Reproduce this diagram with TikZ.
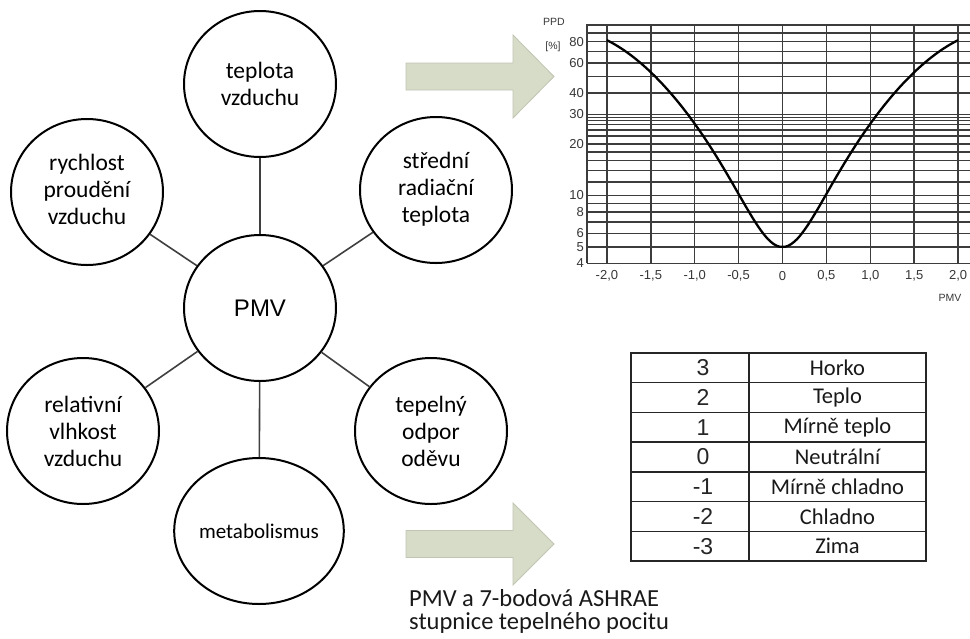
\documentclass[tikz,border=0pt]{standalone}
\usepackage{fontspec}
\setmainfont{Carlito}
\newfontfamily\arialf{Liberation Sans}
\usetikzlibrary{shapes.geometric}
\definecolor{arrowfill}{RGB}{214,220,200}
\definecolor{arrowline}{RGB}{192,198,178}
\definecolor{spoke}{RGB}{64,64,64}
\definecolor{gridc}{RGB}{60,60,60}
\definecolor{tickc}{RGB}{55,55,55}
\tikzset{
  bubble/.style={ellipse, draw=black, line width=2pt, fill=white, minimum width=152pt, minimum height=146pt, inner sep=0pt, align=center, font=\fontsize{23.5}{27}\selectfont},
  spokeline/.style={draw=spoke, line width=1.6pt},
  bigarrow/.style={fill=arrowfill, draw=arrowline, line width=0.8pt},
  cell/.style={draw=black!85, line width=1.4pt, rectangle, minimum height=29.71pt, inner sep=0pt},
  numtxt/.style={font=\arialf\fontsize{23}{23}\selectfont, text=black!85, inner sep=0pt},
  wordtxt/.style={font=\fontsize{22.5}{22.5}\selectfont, text=black!90, inner sep=0pt},
  gridline/.style={draw=gridc, line width=1.5pt},
  ticklab/.style={font=\arialf\fontsize{13}{13}\selectfont, text=tickc, inner sep=0pt},
  axlab/.style={font=\arialf\fontsize{10.5}{10.5}\selectfont, text=tickc, inner sep=0pt}
}
\begin{document}
\begin{tikzpicture}[x=1pt, y=-1pt]
\useasboundingbox (0,0) rectangle (970,638);
\fill[white] (0,0) rectangle (970,638);

% ---- bubbles ----
\node[bubble] (T) at (260,84) {teplota\\vzduchu};
\node[bubble] (R) at (87,192) {\raisebox{4pt}{\begin{tabular}{@{}c@{}}rychlost\\proudění\\vzduchu\end{tabular}}};
\node[bubble] (S) at (436,190) {\raisebox{3pt}{\begin{tabular}{@{}c@{}}střední\\radiační\\teplota\end{tabular}}};
\node[bubble, font=\arialf\fontsize{24}{24}\selectfont] (P) at (260,308) {PMV};
\node[bubble] (H) at (83,431) {relativní\\vlhkost\\vzduchu};
\node[bubble] (O) at (431,431) {tepelný\\odpor\\oděvu};
\node[bubble, font=\fontsize{21}{21}\selectfont] (M) at (259,531) {metabolismus};

\foreach \n in {T,R,S,H,O,M}{\draw[spokeline] (P) -- (\n);}

% ---- arrows ----
\draw[bigarrow] (406,63) -- (513,63) -- (513,35) -- (554,76.5) -- (513,118) -- (513,90) -- (406,90) -- cycle;
\draw[bigarrow] (406,530.5) -- (513,530.5) -- (513,503) -- (554,544) -- (513,585) -- (513,557.5) -- (406,557.5) -- cycle;

% ---- chart ----
\pgfmathsetmacro{\xa}{782.5}
\pgfmathsetmacro{\xb}{87.8}
\pgfmathsetmacro{\ya}{365.8}
\pgfmathsetmacro{\yb}{170.3}
\foreach \v in {4,5,6,7,8,9,10,12,14,16,18,20,30,40,50,60,70,80,90,100}{
  \pgfmathsetmacro{\yy}{\ya-\yb*log10(\v)}
  \draw[gridline] (587,\yy) -- (970,\yy);
}
\foreach \yy in {117.3,120.7,124.3,130,136}{
  \draw[gridline] (587,\yy) -- (970,\yy);
}
\foreach \p in {-2,-1.5,-1,-0.5,0,0.5,1,1.5,2}{
  \pgfmathsetmacro{\xx}{\xa+\xb*\p}
  \draw[gridline] (\xx,24) -- (\xx,263.3);
}
\draw[gridline] (587,24) -- (587,263.3);
\draw[black, line width=2.3pt, line join=round] plot[domain=-2:2, samples=121, smooth]
  ({\xa+\xb*\x}, {\ya-\yb*log10(100-95*exp(-0.03353*(\x*\x)*(\x*\x)-0.2179*(\x*\x)-0.03*(\x*\x)*(\x*\x)*(\x*\x)/8))});

\foreach \v/\t in {4/4,5/5,6/6,8/8,10/10,20/20,30/30,40/40,60/60,80/80}{
  \pgfmathsetmacro{\yy}{\ya-\yb*log10(\v)}
  \node[ticklab, anchor=east] (yl\v) at (584,\yy) {\t};
}
\foreach \p/\t [count=\i] in {-2/{-2,0},-1.5/{-1,5},-1/{-1,0},-0.5/{-0,5},0/0,0.5/{0,5},1/{1,0},1.5/{1,5},2/{2,0}}{
  \pgfmathsetmacro{\xx}{\xa+\xb*\p}
  \node[ticklab] (xl\i) at (\xx,276) {\t};
}
\node[axlab] (ppd) at (554,22) {PPD};
\node[axlab] (pct) at (553,47) {[\%]};
\node[axlab] (pmvax) at (950,298) {PMV};

% ---- table ----
\foreach \num/\word [count=\i] in {3/Horko,2/Teplo,1/Mírně teplo,0/Neutrální,-1/Mírně chladno,-2/Chladno,-3/Zima}{
  \pgfmathsetmacro{\yc}{353+29.714*(\i-0.5)}
  \node[cell, minimum width=118pt] (a\i) at (690,\yc) {};
  \node[cell, minimum width=177pt] (b\i) at (837.5,\yc) {};
  \node[numtxt] (an\i) at (703,\yc) {\num};
  \node[wordtxt] (bw\i) at (837.5,\yc) {\word};
}

% ---- caption ----
\node[anchor=west, align=left, inner sep=0pt, font=\fontsize{24.5}{23}\selectfont, text=black!90] (cap) at (409,611.5) {PMV a 7-bodová ASHRAE\\stupnice tepelného pocitu};
\end{tikzpicture}
\end{document}
